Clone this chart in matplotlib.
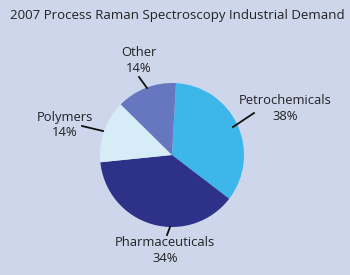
import matplotlib
matplotlib.use('Agg')
import matplotlib.pyplot as plt

# data
categories = ['Petrochemicals', 'Pharmaceuticals', 'Polymers', 'Other']
pct_labels = ['38%', '34%', '14%', '14%']
# slice sizes as actually drawn in the source graphic
shares = [34.5, 38, 14, 13.5]
colors = ['#3db6e9', '#2e3188', '#d6edf8', '#6777bf']
title = '2007 Process Raman Spectroscopy Industrial Demand'

bg = '#cdd6eb'
plt.rcParams['font.family'] = ['Open Sans', 'DejaVu Sans']

fig = plt.figure(figsize=(3.5, 2.75), dpi=100, facecolor=bg)
ax = fig.add_axes([0, 0, 1, 1])
ax.set_facecolor(bg)

ax.pie(shares, colors=colors, startangle=-86.8, counterclock=True,
       center=(172, 155), radius=72, frame=True,
       wedgeprops=dict(linewidth=0))
# pixel-like coords, y pointing down
ax.set_xlim(0, 350)
ax.set_ylim(275, 0)
ax.set_aspect('equal')
ax.axis('off')

ax.text(10, 15, title, fontsize=9.5, color='#222222', va='center', ha='left')

# label text positions and leader lines (pixel coords)
lab_pos = [(285, 109), (165, 251), (65, 125), (139, 61)]
leaders = [((233, 127), (254, 113)), ((167, 235), (170, 227)),
           ((82, 126), (103, 131)), ((139, 77), (147, 88))]
for cat, pct, (x, y), (p0, p1) in zip(categories, pct_labels, lab_pos, leaders):
    ax.text(x, y, cat + '\n' + pct, fontsize=9.4, color='#222222',
            ha='center', va='center', linespacing=1.3)
    ax.plot([p0[0], p1[0]], [p0[1], p1[1]], color='#111111', lw=1.3)

fig.savefig('out.png', dpi=100, facecolor=bg)
